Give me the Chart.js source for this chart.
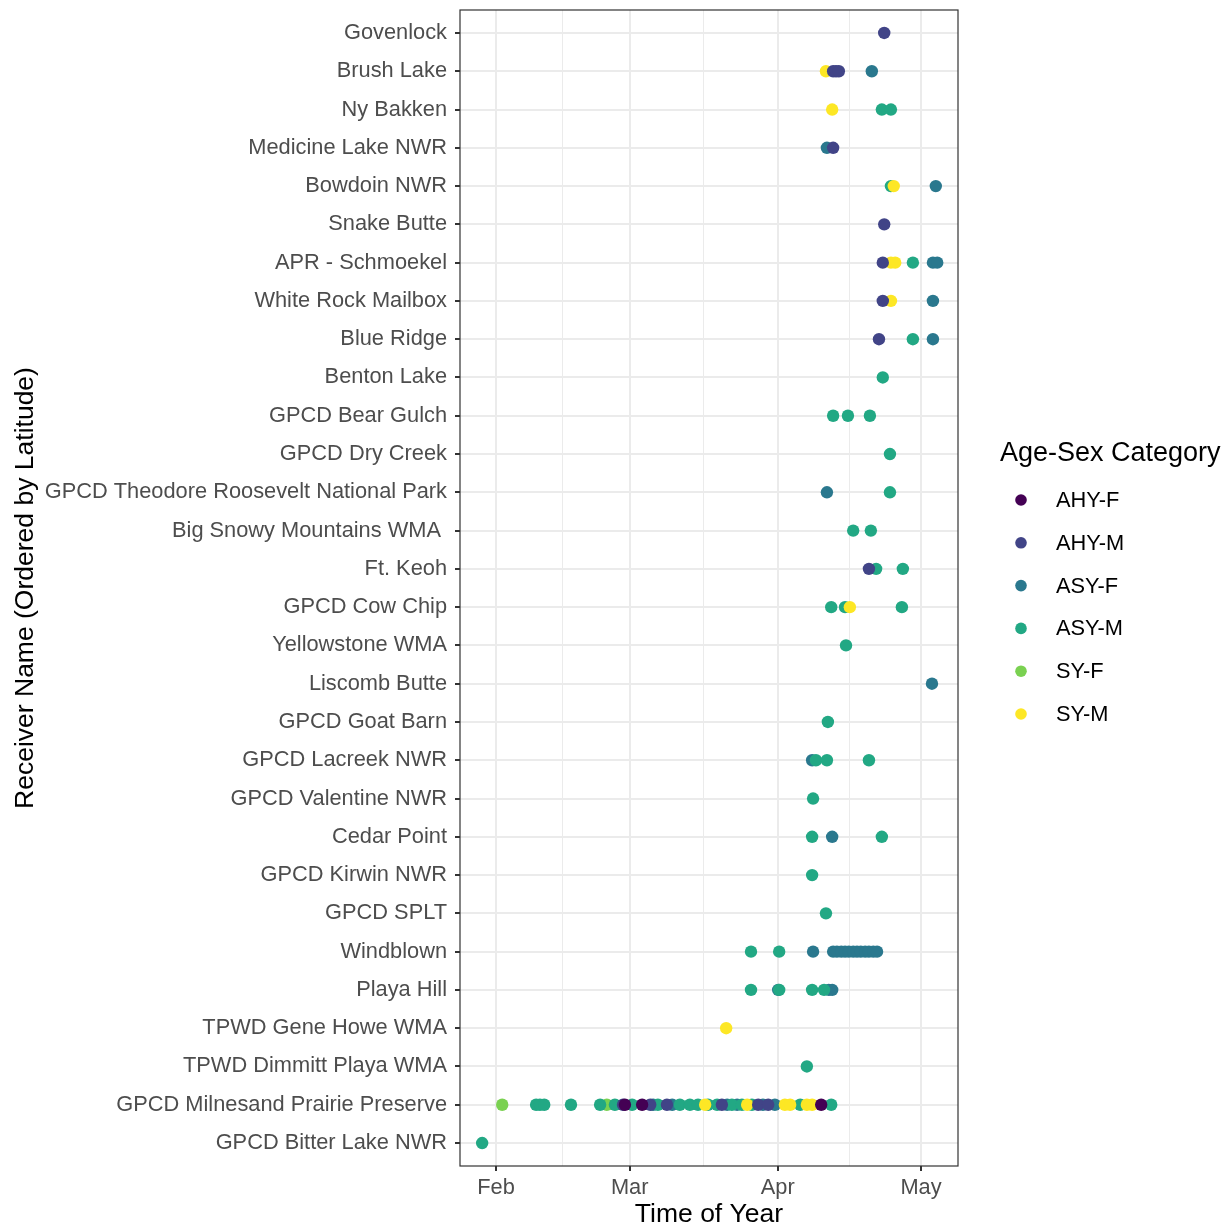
<!DOCTYPE html>
<html>
<head>
<meta charset="utf-8">
<script src="https://cdn.jsdelivr.net/npm/chart.js@4"></script>
<style>
  html, body { margin: 0; padding: 0; background: #fff; }
  #wrap { width: 1230px; height: 1228px; }
</style>
</head>
<body>
<div id="wrap"><canvas id="chart" width="1230" height="1228"></canvas></div>
<script>
// receivers, top to bottom (ordered by latitude)
const receivers = [
  'Govenlock', 'Brush Lake', 'Ny Bakken', 'Medicine Lake NWR', 'Bowdoin NWR',
  'Snake Butte', 'APR - Schmoekel', 'White Rock Mailbox', 'Blue Ridge', 'Benton Lake',
  'GPCD Bear Gulch', 'GPCD Dry Creek', 'GPCD Theodore Roosevelt National Park',
  'Big Snowy Mountains WMA ', 'Ft. Keoh', 'GPCD Cow Chip', 'Yellowstone WMA',
  'Liscomb Butte', 'GPCD Goat Barn', 'GPCD Lacreek NWR', 'GPCD Valentine NWR',
  'Cedar Point', 'GPCD Kirwin NWR', 'GPCD SPLT', 'Windblown', 'Playa Hill',
  'TPWD Gene Howe WMA', 'TPWD Dimmitt Playa WMA', 'GPCD Milnesand Prairie Preserve',
  'GPCD Bitter Lake NWR'
];

// x axis: day of year (Jan 1 = 0)
const monthDays = [31, 59, 90, 120];
const monthLabels = ['Feb', 'Mar', 'Apr', 'May'];
const minorDays = [45, 74.5, 105];

const categories = ['AHY-F', 'AHY-M', 'ASY-F', 'ASY-M', 'SY-F', 'SY-M'];
const colors = ['#440154', '#414487', '#2A788E', '#22A884', '#7AD151', '#FDE725'];

// detections: [receiver, day of year]
const ahyF = [
  ['GPCD Milnesand Prairie Preserve', 58.0], ['GPCD Milnesand Prairie Preserve', 61.6],
  ['GPCD Milnesand Prairie Preserve', 99.1]
];
const ahyM = [
  ['Govenlock', 112.3], ['Brush Lake', 101.6], ['Brush Lake', 102.2], ['Brush Lake', 102.8],
  ['Medicine Lake NWR', 101.6], ['Snake Butte', 112.3], ['APR - Schmoekel', 112.0],
  ['White Rock Mailbox', 112.0], ['Blue Ridge', 111.2], ['Ft. Keoh', 109.1],
  ['GPCD Milnesand Prairie Preserve', 57.6], ['GPCD Milnesand Prairie Preserve', 63.3],
  ['GPCD Milnesand Prairie Preserve', 66.8], ['GPCD Milnesand Prairie Preserve', 78.3],
  ['GPCD Milnesand Prairie Preserve', 85.9], ['GPCD Milnesand Prairie Preserve', 88.0]
];
const asyF = [
  ['Brush Lake', 109.7], ['Medicine Lake NWR', 100.3], ['Bowdoin NWR', 123.1],
  ['APR - Schmoekel', 122.5], ['APR - Schmoekel', 123.4], ['White Rock Mailbox', 122.5],
  ['Blue Ridge', 122.5], ['GPCD Theodore Roosevelt National Park', 100.3],
  ['Liscomb Butte', 122.3], ['GPCD Lacreek NWR', 97.2], ['Cedar Point', 101.4],
  ['Windblown', 97.4], ['Windblown', 101.6], ['Windblown', 102.4], ['Windblown', 103.3],
  ['Windblown', 104.1], ['Windblown', 104.9], ['Windblown', 105.8], ['Windblown', 106.6],
  ['Windblown', 107.4], ['Windblown', 108.3], ['Windblown', 109.1], ['Windblown', 110.0],
  ['Windblown', 110.8], ['Playa Hill', 90.1], ['Playa Hill', 100.7], ['Playa Hill', 101.4],
  ['GPCD Milnesand Prairie Preserve', 63.9], ['GPCD Milnesand Prairie Preserve', 67.9],
  ['GPCD Milnesand Prairie Preserve', 79.4], ['GPCD Milnesand Prairie Preserve', 81.5],
  ['GPCD Milnesand Prairie Preserve', 86.9], ['GPCD Milnesand Prairie Preserve', 89.4]
];
const asyM = [
  ['Ny Bakken', 111.8], ['Ny Bakken', 113.7], ['Bowdoin NWR', 113.7], ['APR - Schmoekel', 118.3],
  ['Blue Ridge', 118.3], ['Benton Lake', 112.0], ['GPCD Bear Gulch', 101.6],
  ['GPCD Bear Gulch', 104.7], ['GPCD Bear Gulch', 109.3], ['GPCD Dry Creek', 113.5],
  ['GPCD Theodore Roosevelt National Park', 113.5], ['Big Snowy Mountains WMA ', 105.8],
  ['Big Snowy Mountains WMA ', 109.5], ['Ft. Keoh', 110.6], ['Ft. Keoh', 116.2],
  ['GPCD Cow Chip', 101.2], ['GPCD Cow Chip', 104.1], ['GPCD Cow Chip', 116.0],
  ['Yellowstone WMA', 104.3], ['GPCD Goat Barn', 100.5], ['GPCD Lacreek NWR', 98.0],
  ['GPCD Lacreek NWR', 100.3], ['GPCD Lacreek NWR', 109.1], ['GPCD Valentine NWR', 97.4],
  ['Cedar Point', 97.2], ['Cedar Point', 111.8], ['GPCD Kirwin NWR', 97.2], ['GPCD SPLT', 100.1],
  ['Windblown', 84.4], ['Windblown', 90.3], ['Playa Hill', 84.4], ['Playa Hill', 90.3],
  ['Playa Hill', 97.2], ['Playa Hill', 99.7], ['TPWD Dimmitt Playa WMA', 96.1],
  ['GPCD Milnesand Prairie Preserve', 39.4], ['GPCD Milnesand Prairie Preserve', 40.2],
  ['GPCD Milnesand Prairie Preserve', 41.1], ['GPCD Milnesand Prairie Preserve', 46.7],
  ['GPCD Milnesand Prairie Preserve', 52.8], ['GPCD Milnesand Prairie Preserve', 55.9],
  ['GPCD Milnesand Prairie Preserve', 59.5], ['GPCD Milnesand Prairie Preserve', 64.9],
  ['GPCD Milnesand Prairie Preserve', 69.5], ['GPCD Milnesand Prairie Preserve', 71.6],
  ['GPCD Milnesand Prairie Preserve', 73.3], ['GPCD Milnesand Prairie Preserve', 75.4],
  ['GPCD Milnesand Prairie Preserve', 77.3], ['GPCD Milnesand Prairie Preserve', 80.4],
  ['GPCD Milnesand Prairie Preserve', 82.5], ['GPCD Milnesand Prairie Preserve', 84.6],
  ['GPCD Milnesand Prairie Preserve', 94.7], ['GPCD Milnesand Prairie Preserve', 101.2],
  ['GPCD Bitter Lake NWR', 28.1]
];
const syF = [
  ['GPCD Milnesand Prairie Preserve', 32.3], ['GPCD Milnesand Prairie Preserve', 54.2]
];
const syM = [
  ['Brush Lake', 100.1], ['Ny Bakken', 101.4], ['Bowdoin NWR', 114.3], ['APR - Schmoekel', 113.7],
  ['APR - Schmoekel', 114.6], ['White Rock Mailbox', 113.7], ['GPCD Cow Chip', 105.1],
  ['TPWD Gene Howe WMA', 79.2], ['GPCD Milnesand Prairie Preserve', 74.8],
  ['GPCD Milnesand Prairie Preserve', 83.6], ['GPCD Milnesand Prairie Preserve', 91.5],
  ['GPCD Milnesand Prairie Preserve', 92.6], ['GPCD Milnesand Prairie Preserve', 96.1],
  ['GPCD Milnesand Prairie Preserve', 97.2]
];

const series = [ahyF, ahyM, asyF, asyM, syF, syM];
// lower = drawn on top
const drawOrder = [0, 1, 4, 3, 5, 2];

const FONT = "'Liberation Sans', Arial, sans-serif";

const datasets = categories.map((name, i) => ({
  label: name,
  data: series[i].map(p => ({ x: p[1], y: receivers.indexOf(p[0]) })),
  backgroundColor: colors[i],
  borderWidth: 0,
  pointRadius: 6.2,
  order: drawOrder[i]
}));

// panel border + legend
const extras = {
  id: 'extras',
  afterDatasetsDraw(chart) {
    const { ctx, chartArea: a } = chart;
    ctx.save();
    ctx.strokeStyle = '#333333';
    ctx.lineWidth = 1.2;
    ctx.strokeRect(a.left, a.top, a.right - a.left, a.bottom - a.top);
    ctx.restore();
  },
  afterDraw(chart) {
    const ctx = chart.ctx;
    ctx.save();
    ctx.fillStyle = '#000';
    ctx.textBaseline = 'middle';
    ctx.font = '27px ' + FONT;
    ctx.fillText('Age-Sex Category', 1000, 454);
    ctx.font = '21.8px ' + FONT;
    categories.forEach((name, i) => {
      const y = 500 + i * 42.8;
      ctx.fillStyle = colors[i];
      ctx.beginPath();
      ctx.arc(1021, y, 5.8, 0, Math.PI * 2);
      ctx.fill();
      ctx.fillStyle = '#000';
      ctx.fillText(name, 1056, y + 1);
    });
    ctx.restore();
  }
};

new Chart(document.getElementById('chart'), {
  type: 'scatter',
  data: { datasets: datasets },
  options: {
    responsive: false,
    animation: false,
    events: [],
    layout: { padding: { top: 10, right: 272, left: 0, bottom: 0 } },
    plugins: { legend: { display: false }, tooltip: { enabled: false } },
    scales: {
      x: {
        type: 'linear',
        min: 23.46,
        max: 127.75,
        afterBuildTicks(scale) {
          scale.ticks = monthDays.concat(minorDays).sort((a, b) => a - b).map(v => ({ value: v }));
        },
        afterFit(scale) {
          scale.height = 62;
          scale.paddingLeft = 0;
          scale.paddingRight = 0;
        },
        ticks: {
          padding: 4,
          color: '#4D4D4D',
          font: { family: FONT, size: 21.8 },
          maxRotation: 0,
          autoSkip: false,
          callback: v => {
            const k = monthDays.indexOf(v);
            return k >= 0 ? monthLabels[k] : '';
          }
        },
        grid: {
          color: '#EBEBEB',
          lineWidth: c => (monthDays.includes(c.tick && c.tick.value) ? 2 : 1),
          tickColor: c => (monthDays.includes(c.tick && c.tick.value) ? '#333333' : 'rgba(0,0,0,0)'),
          tickLength: 5,
          drawTicks: true
        },
        border: { display: false },
        title: {
          display: true,
          text: 'Time of Year',
          color: '#000',
          font: { family: FONT, size: 26.5, lineHeight: 1 },
          padding: { top: 0, bottom: 0 }
        }
      },
      y: {
        type: 'linear',
        reverse: true,
        min: -0.6,
        max: receivers.length - 0.4,
        afterBuildTicks(scale) {
          scale.ticks = receivers.map((r, i) => ({ value: i }));
        },
        afterFit(scale) {
          scale.width = 460;
          scale.paddingTop = 0;
          scale.paddingBottom = 0;
        },
        ticks: {
          padding: 8,
          color: '#4D4D4D',
          font: { family: FONT, size: 21.8 },
          autoSkip: false,
          callback: v => receivers[v]
        },
        grid: {
          color: '#EBEBEB',
          lineWidth: 2,
          tickColor: '#333333',
          tickLength: 5
        },
        border: { display: false },
        title: {
          display: true,
          text: 'Receiver Name (Ordered by Latitude)',
          color: '#000',
          font: { family: FONT, size: 26.5, lineHeight: 1 },
          padding: { top: 12, bottom: 0 }
        }
      }
    }
  },
  plugins: [extras]
});
</script>
</body>
</html>
